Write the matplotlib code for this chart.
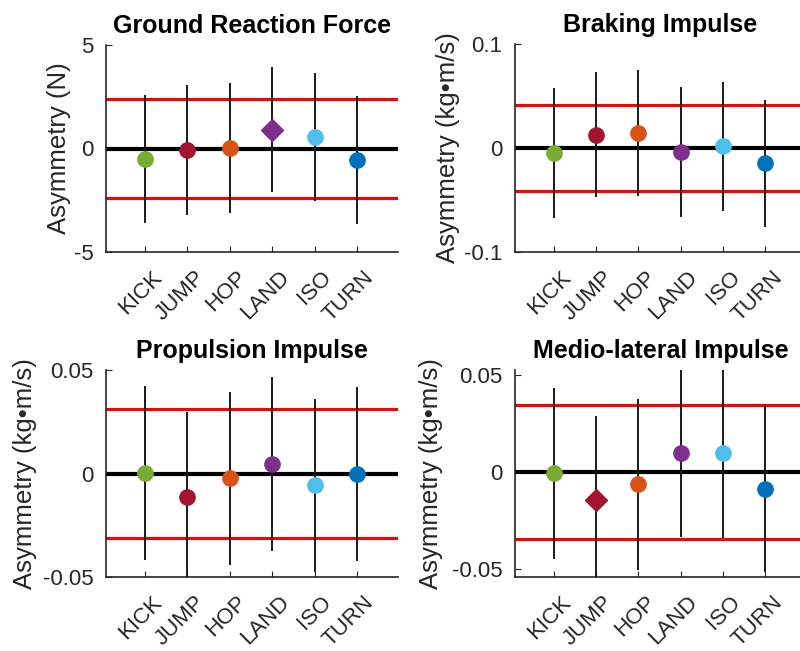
import matplotlib
matplotlib.use("Agg")
import matplotlib.pyplot as plt
from matplotlib.transforms import ScaledTranslation

plt.rcParams['font.family'] = ['Liberation Sans', 'DejaVu Sans']

tasks = ["KICK", "JUMP", "HOP", "LAND", "ISO", "TURN"]
task_colors = ["#77AC30", "#A2142F", "#D95319", "#7E2F8E", "#4DBEEE", "#0072BD"]

# Ground reaction force asymmetry (N)
grf_mean = [-0.50, -0.08, 0.03, 0.91, 0.55, -0.57]
grf_err = [3.10, 3.15, 3.14, 3.03, 3.10, 3.10]
grf_limit = 2.38
grf_diamond = ["LAND"]

# Braking impulse asymmetry (kg·m/s)
brk_mean = [-0.0045, 0.0128, 0.0141, -0.0036, 0.0015, -0.0149]
brk_err = [0.0624, 0.0603, 0.0606, 0.0623, 0.0624, 0.0607]
brk_limit = 0.0417
brk_diamond = []

# Propulsion impulse asymmetry (kg·m/s)
prop_mean = [0.0003, -0.0113, -0.0024, 0.0046, -0.0057, -0.0002]
prop_err = [0.0422, 0.0410, 0.0420, 0.0418, 0.0417, 0.0420]
prop_limit = 0.031
prop_diamond = []

# Medio-lateral impulse asymmetry (kg·m/s)
ml_mean = [-0.0008, -0.0143, -0.0065, 0.0098, 0.0095, -0.0086]
ml_err = [0.0442, 0.0431, 0.0440, 0.0434, 0.0435, 0.0431]
ml_limit = 0.0345
ml_diamond = ["JUMP"]

W, H = 800, 651
fig = plt.figure(figsize=(W / 100, H / 100), dpi=100)


def px_axes(left, right, top, bottom):
    return fig.add_axes([left / W, 1 - bottom / H, (right - left) / W, (bottom - top) / H])


panels = [
    dict(box=(106, 398, 45, 252), title="Ground Reaction Force", ylabel="Asymmetry (N)",
         mean=grf_mean, err=grf_err, limit=grf_limit, diamond=grf_diamond, label_x=-0.120,
         ylim=(-5, 5), yticks=[-5, 0, 5], yticklabels=["-5", "0", "5"]),
    dict(box=(515, 806, 44, 252), title="Braking Impulse", ylabel="Asymmetry (kg\u2022m/s)",
         mean=brk_mean, err=brk_err, limit=brk_limit, diamond=brk_diamond, label_x=-0.189,
         ylim=(-0.1, 0.1), yticks=[-0.1, 0, 0.1], yticklabels=["-0.1", "0", "0.1"]),
    dict(box=(106, 398, 370, 577), title="Propulsion Impulse", ylabel="Asymmetry (kg\u2022m/s)",
         mean=prop_mean, err=prop_err, limit=prop_limit, diamond=prop_diamond, label_x=-0.236,
         ylim=(-0.05, 0.05), yticks=[-0.05, 0, 0.05], yticklabels=["-0.05", "0", "0.05"]),
    dict(box=(515, 806, 370, 577), title="Medio-lateral Impulse", ylabel="Asymmetry (kg\u2022m/s)",
         mean=ml_mean, err=ml_err, limit=ml_limit, diamond=ml_diamond, label_x=-0.247,
         ylim=(-0.0543, 0.0526), yticks=[-0.05, 0, 0.05], yticklabels=["-0.05", "0", "0.05"]),
]

xpos = list(range(1, len(tasks) + 1))
label_shift = ScaledTranslation(0.14, 0, fig.dpi_scale_trans)

for p in panels:
    ax = px_axes(*p["box"])
    ax.set_xlim(0.08, 6.97)
    ax.set_ylim(*p["ylim"])

    ax.axhline(p["limit"], color="#ff0000", lw=2.2, zorder=1)
    ax.axhline(-p["limit"], color="#ff0000", lw=2.2, zorder=1)
    ax.axhline(0, color="black", lw=3.0, zorder=2)

    ax.errorbar(xpos, p["mean"], yerr=p["err"], fmt="none", ecolor="#1a1a1a",
                elinewidth=1.4, capsize=0, zorder=3)
    for x, m, c, name in zip(xpos, p["mean"], task_colors, tasks):
        if name in p["diamond"]:
            ax.plot(x, m, marker="D", ms=11.5, color=c, mec=c, zorder=4)
        else:
            ax.plot(x, m, marker="o", ms=11, color=c, mec=c, zorder=4)

    ax.set_title(p["title"], fontsize=18, fontweight="bold", pad=8.5)
    ax.set_ylabel(p["ylabel"], fontsize=18.5, color="#262626")
    ax.yaxis.set_label_coords(p["label_x"], 0.5)
    ax.set_yticks(p["yticks"])
    ax.set_yticklabels(p["yticklabels"])
    ax.set_xticks(xpos)

    for s in ("top", "right"):
        ax.spines[s].set_visible(False)
    for s in ("left", "bottom"):
        ax.spines[s].set_color("#262626")
        ax.spines[s].set_linewidth(1.2)
    ax.tick_params(direction="in", length=4, width=0.8, colors="#262626",
                   labelsize=16, labelcolor="#262626")
    ax.tick_params(axis="y", pad=9)
    ax.tick_params(axis="x", pad=15.8)

    # rotated task names, nudged right of their ticks
    ax.set_xticklabels(tasks, rotation=45, ha="right", va="center", rotation_mode="anchor")
    for lab in ax.get_xticklabels():
        lab.set_transform(lab.get_transform() + label_shift)

fig.savefig("out.png", dpi=100)
